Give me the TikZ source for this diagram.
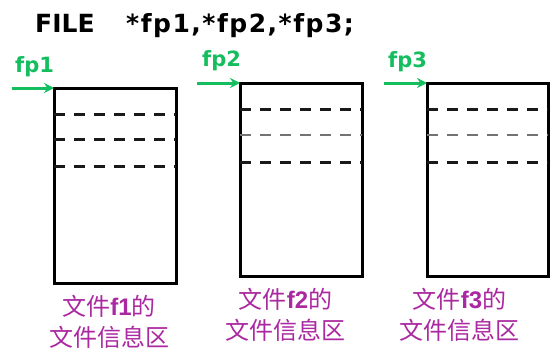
\documentclass[tikz,border=0pt]{standalone}
\usepackage{fontspec}
\usetikzlibrary{arrows.meta}
\newfontfamily\titlefont{DejaVu Sans}
\newfontfamily\titlefontsp{DejaVu Sans}[LetterSpace=6]
\newfontfamily\cjk{Noto Sans CJK SC}
\newfontfamily\arialf{Liberation Sans}
\definecolor{fpgreen}{RGB}{20,190,95}
\definecolor{lblmag}{RGB}{170,40,160}
\begin{document}
\begin{tikzpicture}[x=1pt,y=-1pt,
  box/.style={draw,line width=3pt,minimum width=122pt,minimum height=195pt,inner sep=0pt,outer sep=0pt},
  dk/.style={line width=3pt,dash pattern=on 11pt off 9pt,black!90},
  lt/.style={line width=2pt,dash pattern=on 11pt off 9pt,black!55},
  ptr/.style={fpgreen,line width=3pt,-{Stealth[length=10pt,width=10pt]}},
  fplbl/.style={text=fpgreen,font=\titlefont\bfseries\fontsize{21}{24}\selectfont,inner sep=0pt,anchor=base west},
  ttl/.style={font=\titlefont\bfseries\fontsize{25}{30}\selectfont,inner sep=0pt,anchor=base west},
  ttlsp/.style={font=\titlefontsp\bfseries\fontsize{25}{30}\selectfont,inner sep=0pt,anchor=base west},
  lbl/.style={text=lblmag,font=\cjk\fontsize{24}{31}\selectfont,align=center,inner sep=0pt}]
\useasboundingbox (0,0) rectangle (555,351);
% title
\node[ttl] (t1) at (35,32) {FILE};
\node[ttlsp] (t2) at (126,32) {*fp1,*fp2,*fp3;};
% boxes
\node[box] (b1) at (115,185.5) {};
\node[box,minimum height=193pt] (b2) at (301,179.5) {};
\node[box,minimum height=193pt,minimum width=121pt] (b3) at (487.5,179.5) {};
% dashed lines
\draw[dk] ([yshift=-26pt]b1.north west) -- ([yshift=-26pt]b1.north east);
\draw[dk] ([yshift=-51pt]b1.north west) -- ([yshift=-51pt]b1.north east);
\draw[dk] ([yshift=-78pt]b1.north west) -- ([yshift=-78pt]b1.north east);
\draw[dk] ([yshift=-26pt]b2.north west) -- ([yshift=-26pt]b2.north east);
\draw[lt] ([yshift=-52pt]b2.north west) -- ([yshift=-52pt]b2.north east);
\draw[dk] ([yshift=-79pt]b2.north west) -- ([yshift=-79pt]b2.north east);
\draw[dk] ([yshift=-26pt]b3.north west) -- ([yshift=-26pt]b3.north east);
\draw[lt] ([yshift=-52pt]b3.north west) -- ([yshift=-52pt]b3.north east);
\draw[dk] ([yshift=-79pt]b3.north west) -- ([yshift=-79pt]b3.north east);
% pointers
\node[fplbl] (f1) at (15,72) {fp1};
\node[fplbl] (f2) at (202,66) {fp2};
\node[fplbl] (f3) at (388,67) {fp3};
\coordinate (s1) at (12,88);
\coordinate (s2) at (197,83);
\coordinate (s3) at (384,83);
\draw[ptr] (s1) -- (b1.north west);
\draw[ptr] (s2) -- (b2.north west);
\draw[ptr] (s3) -- (b3.north west);
% labels
\node[lbl] (l1) at (109,321.5) {文件{\arialf\bfseries f1}的\\文件信息区};
\node[lbl] (l2) at (285.5,314.5) {文件{\arialf\bfseries f2}的\\文件信息区};
\node[lbl] (l3) at (459.5,314.5) {文件{\arialf\bfseries f3}的\\文件信息区};
\end{tikzpicture}
\end{document}
